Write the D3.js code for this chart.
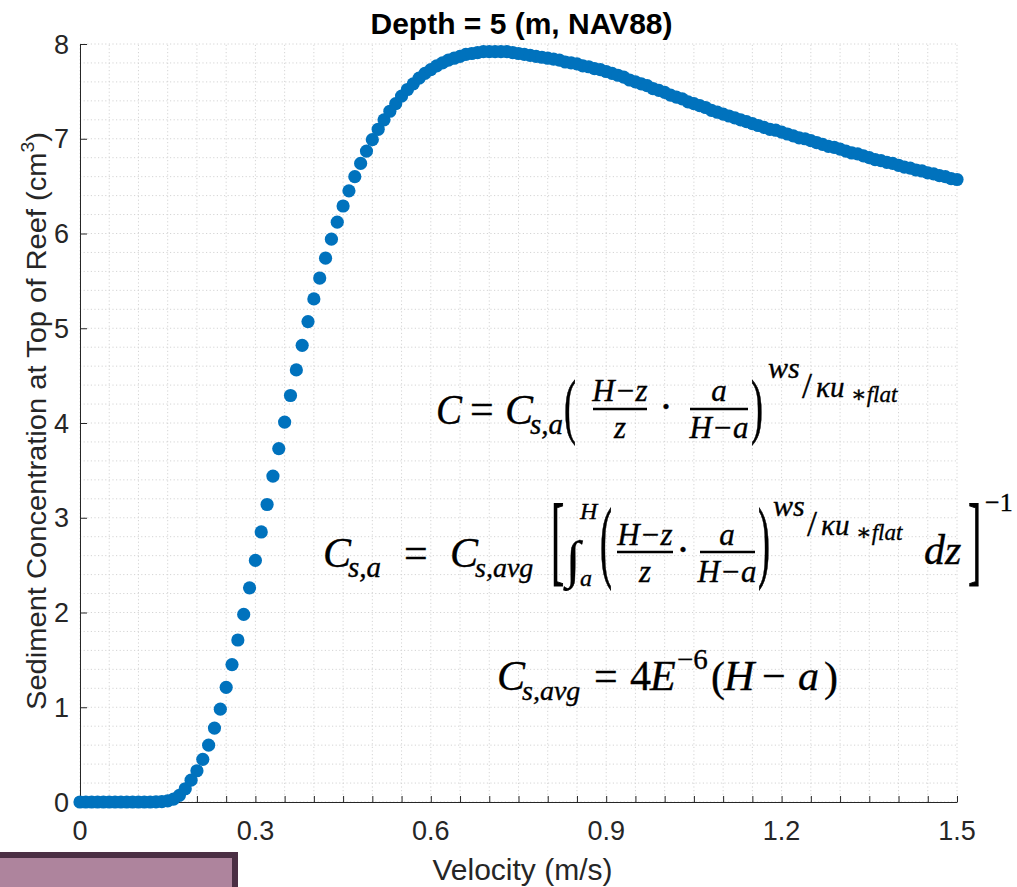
<!DOCTYPE html>
<html>
<head>
<meta charset="utf-8">
<script src="https://cdn.jsdelivr.net/npm/d3@7"></script>
<style>
  body { margin: 0; background: #fff; }
  svg { display: block; }
  .tick-label { font-family: "Liberation Sans", Arial, sans-serif; fill: #262626; }
  .math { font-family: "Liberation Serif", "DejaVu Serif", serif; fill: #000; stroke: #000; stroke-width: 0.35; }
</style>
</head>
<body>
<div id="root"></div>
<script>
// velocity (m/s), one point every 0.01
let velocity = [
    0.00, 0.01, 0.02, 0.03, 0.04, 0.05, 0.06, 0.07, 0.08, 0.09,
    0.10, 0.11, 0.12, 0.13, 0.14, 0.15, 0.16, 0.17, 0.18, 0.19,
    0.20, 0.21, 0.22, 0.23, 0.24, 0.25, 0.26, 0.27, 0.28, 0.29,
    0.30, 0.31, 0.32, 0.33, 0.34, 0.35, 0.36, 0.37, 0.38, 0.39,
    0.40, 0.41, 0.42, 0.43, 0.44, 0.45, 0.46, 0.47, 0.48, 0.49,
    0.50, 0.51, 0.52, 0.53, 0.54, 0.55, 0.56, 0.57, 0.58, 0.59,
    0.60, 0.61, 0.62, 0.63, 0.64, 0.65, 0.66, 0.67, 0.68, 0.69,
    0.70, 0.71, 0.72, 0.73, 0.74, 0.75, 0.76, 0.77, 0.78, 0.79,
    0.80, 0.81, 0.82, 0.83, 0.84, 0.85, 0.86, 0.87, 0.88, 0.89,
    0.90, 0.91, 0.92, 0.93, 0.94, 0.95, 0.96, 0.97, 0.98, 0.99,
    1.00, 1.01, 1.02, 1.03, 1.04, 1.05, 1.06, 1.07, 1.08, 1.09,
    1.10, 1.11, 1.12, 1.13, 1.14, 1.15, 1.16, 1.17, 1.18, 1.19,
    1.20, 1.21, 1.22, 1.23, 1.24, 1.25, 1.26, 1.27, 1.28, 1.29,
    1.30, 1.31, 1.32, 1.33, 1.34, 1.35, 1.36, 1.37, 1.38, 1.39,
    1.40, 1.41, 1.42, 1.43, 1.44, 1.45, 1.46, 1.47, 1.48, 1.49,
    1.50
];

// sediment concentration at top of reef
let concentration = [
    0.00, 0.00, 0.00, 0.00, 0.00, 0.00, 0.00, 0.00, 0.00, 0.00,
    0.00, 0.00, 0.00, 0.002, 0.005, 0.012, 0.03, 0.07, 0.14, 0.23,
    0.33, 0.45, 0.60, 0.78, 0.98, 1.21, 1.45, 1.71, 1.98, 2.26,
    2.55, 2.85, 3.14, 3.44, 3.73, 4.01, 4.29, 4.56, 4.82, 5.07,
    5.31, 5.53, 5.74, 5.94, 6.12, 6.29, 6.45, 6.60, 6.74, 6.87,
    6.99, 7.10, 7.20, 7.29, 7.37, 7.45, 7.52, 7.58, 7.64, 7.69,
    7.73, 7.77, 7.80, 7.83, 7.85, 7.87, 7.89, 7.90, 7.91, 7.92,
    7.92, 7.92, 7.92, 7.92, 7.91, 7.90, 7.89, 7.88, 7.87, 7.86,
    7.85, 7.84, 7.83, 7.81, 7.80, 7.79, 7.77, 7.76, 7.74, 7.73,
    7.71, 7.69, 7.67, 7.65, 7.62, 7.60, 7.58, 7.56, 7.53, 7.51,
    7.49, 7.46, 7.44, 7.42, 7.39, 7.37, 7.35, 7.33, 7.30, 7.28,
    7.26, 7.24, 7.22, 7.20, 7.18, 7.16, 7.14, 7.12, 7.10, 7.09,
    7.07, 7.05, 7.03, 7.01, 7.00, 6.98, 6.96, 6.94, 6.92, 6.91,
    6.89, 6.87, 6.85, 6.84, 6.82, 6.80, 6.78, 6.77, 6.75, 6.74,
    6.72, 6.70, 6.69, 6.67, 6.66, 6.64, 6.63, 6.61, 6.60, 6.58,
    6.57
];

let xTickValues = [0, 0.3, 0.6, 0.9, 1.2, 1.5];
let xTickLabels = ['0', '0.3', '0.6', '0.9', '1.2', '1.5'];
let yTickValues = [0, 1, 2, 3, 4, 5, 6, 7, 8];

let titleText = 'Depth = 5 (m, NAV88)';
let xLabelText = 'Velocity (m/s)';

let width = 1017, height = 887;
let margin = {left: 80, right: 60, top: 44, bottom: 85};

let svg = d3.select('#root').append('svg')
    .attr('width', width)
    .attr('height', height);

let x = d3.scaleLinear().domain([0, 1.5]).range([margin.left, width - margin.right]);
let y = d3.scaleLinear().domain([0, 8]).range([height - margin.bottom, margin.top]);

// minor grid, dotted
let grid = svg.append('g').attr('stroke', '#d4d4d4').attr('stroke-dasharray', '1.2,2.4').attr('stroke-width', 1);
grid.selectAll('line.gx')
    .data(x.ticks(30))
    .join('line')
    .attr('class', 'gx')
    .attr('x1', d => x(d)).attr('x2', d => x(d))
    .attr('y1', y(0)).attr('y2', y(8));
grid.selectAll('line.gy')
    .data(y.ticks(40))
    .join('line')
    .attr('class', 'gy')
    .attr('y1', d => y(d)).attr('y2', d => y(d))
    .attr('x1', x(0)).attr('x2', x(1.5));

// axes, ticks pointing inward like matlab
let xAxis = svg.append('g')
    .attr('transform', `translate(0,${y(0)})`)
    .call(d3.axisBottom(x).tickValues(x.ticks(30)).tickSizeInner(-6).tickSizeOuter(0).tickFormat(''));
xAxis.select('.domain').attr('stroke', '#262626');
xAxis.selectAll('.tick line').attr('stroke', '#262626');

svg.append('g').selectAll('text')
    .data(xTickValues)
    .join('text')
    .attr('class', 'tick-label')
    .attr('x', d => x(d))
    .attr('y', y(0) + 38)
    .attr('text-anchor', 'middle')
    .attr('font-size', 27)
    .text((d, i) => xTickLabels[i]);

let yAxis = svg.append('g')
    .attr('transform', `translate(${x(0)},0)`)
    .call(d3.axisLeft(y).tickValues(yTickValues).tickSizeInner(-7).tickSizeOuter(0).tickFormat(''));
yAxis.select('.domain').attr('stroke', '#262626');
yAxis.selectAll('.tick line').attr('stroke', '#262626');

svg.append('g').selectAll('text')
    .data(yTickValues)
    .join('text')
    .attr('class', 'tick-label')
    .attr('x', x(0) - 11)
    .attr('y', d => y(d) + 9.5)
    .attr('text-anchor', 'end')
    .attr('font-size', 27)
    .text(d => d);

// points
svg.append('g').selectAll('circle')
    .data(velocity.map((v, i) => ({v, c: concentration[i]})))
    .join('circle')
    .attr('cx', d => x(d.v))
    .attr('cy', d => y(d.c))
    .attr('r', 6.6)
    .attr('fill', '#0072BD');

// title and labels
svg.append('text')
    .attr('x', (x(0) + x(1.5)) / 2 + 3)
    .attr('y', 34)
    .attr('text-anchor', 'middle')
    .attr('font-family', '"Liberation Sans", Arial, sans-serif')
    .attr('font-weight', 'bold')
    .attr('font-size', 30)
    .attr('fill', '#000')
    .text(titleText);

svg.append('text')
    .attr('x', (x(0) + x(1.5)) / 2 + 4)
    .attr('y', 880)
    .attr('text-anchor', 'middle')
    .attr('font-family', '"Liberation Sans", Arial, sans-serif')
    .attr('font-size', 30)
    .attr('fill', '#262626')
    .text(xLabelText);

// matlab's label font is narrow, so squeeze it to the reference length
let yl = svg.append('text')
    .attr('transform', `translate(46,${(y(0) + y(8)) / 2 - 2}) rotate(-90)`)
    .attr('text-anchor', 'middle')
    .attr('font-family', '"Liberation Sans", Arial, sans-serif')
    .attr('font-size', 27)
    .attr('fill', '#262626')
    .attr('textLength', 578)
    .attr('lengthAdjust', 'spacingAndGlyphs');
yl.append('tspan').text('Sediment Concentration at Top of Reef (cm');
yl.append('tspan').attr('font-size', 18).attr('dy', -12).text('3');
yl.append('tspan').attr('dy', 12).text(')');

// ##################################################
// #  formulas                                      #
// ##################################################

function mt(sel, px, py, str, size, opts) {
    opts = opts || {};
    let t = sel.append('text')
        .attr('class', 'math')
        .attr('x', px).attr('y', py)
        .attr('font-size', size)
        .attr('font-style', opts.up ? 'normal' : 'italic')
        .attr('text-anchor', opts.anchor || 'start')
        .text(str);
    if (opts.len) {
        t.attr('textLength', opts.len).attr('lengthAdjust', 'spacingAndGlyphs');
    }
    return t;
}

// tall delimiter: normal glyph stretched vertically
function tall(sel, px, py, ch, size, sy) {
    return sel.append('text')
        .attr('class', 'math')
        .attr('transform', `translate(${px},${py}) scale(1,${sy})`)
        .attr('font-size', size)
        .attr('stroke-width', 0.2)
        .text(ch);
}

// letter with a subscript, kept in one text element
function withSub(sel, px, py, main, subText, size, subSize) {
    let t = sel.append('text')
        .attr('class', 'math')
        .attr('x', px).attr('y', py)
        .attr('font-size', size)
        .attr('font-style', 'italic');
    t.append('tspan').text(main);
    t.append('tspan').attr('font-size', subSize).attr('dx', -3).attr('dy', 10).text(subText);
    return t;
}

function bar(sel, x1, x2, py) {
    sel.append('line')
        .attr('x1', x1).attr('x2', x2)
        .attr('y1', py).attr('y2', py)
        .attr('stroke', '#000').attr('stroke-width', 2.6);
}

let f = svg.append('g');

// C = C_{s,a} ( (H-z)/z . a/(H-a) )^{ws/ku*flat}
mt(f, 436, 424, 'C', 42, {len: 26});
mt(f, 470, 423, '=', 42, {up: true});
withSub(f, 505, 424, 'C', 's,a', 42, 29);
tall(f, 564, 430, '(', 36, 2);
mt(f, 620, 401, 'H\u2212z', 31, {anchor: 'middle'});
bar(f, 593, 647, 409);
mt(f, 620, 438, 'z', 31, {anchor: 'middle'});
mt(f, 666, 421, '\u00b7', 42, {up: true, anchor: 'middle'});
mt(f, 719, 401, 'a', 31, {anchor: 'middle'});
bar(f, 690, 748, 409);
mt(f, 719, 438, 'H\u2212a', 31, {anchor: 'middle'});
tall(f, 751, 430, ')', 36, 2);
mt(f, 768, 378, 'ws', 30);
mt(f, 802, 398, '/', 36, {up: true});
mt(f, 816, 397, '\u03bau', 29);
mt(f, 851, 402, '\u2217flat', 23);

// C_{s,a} = C_{s,avg} [ int_a^H ( ... )^{...} dz ]^{-1}
withSub(f, 323, 567, 'C', 's,a', 42, 29);
mt(f, 404, 567, '=', 42, {up: true});
withSub(f, 450, 567, 'C', 's,avg', 42, 28);
tall(f, 551, 573, '[', 40, 2.5);
mt(f, 566, 577, '\u222b', 52);
mt(f, 580, 519, 'H', 24);
mt(f, 580, 586, 'a', 24);
tall(f, 600, 571, '(', 36, 2.5);
mt(f, 645, 545, 'H\u2212z', 31, {anchor: 'middle'});
bar(f, 617, 673, 552);
mt(f, 645, 582, 'z', 31, {anchor: 'middle'});
mt(f, 683, 564, '\u00b7', 42, {up: true, anchor: 'middle'});
mt(f, 727, 545, 'a', 31, {anchor: 'middle'});
bar(f, 700, 755, 552);
mt(f, 727, 582, 'H\u2212a', 31, {anchor: 'middle'});
tall(f, 758, 571, ')', 36, 2.5);
mt(f, 773, 516, 'ws', 30);
mt(f, 807, 536, '/', 36, {up: true});
mt(f, 821, 535, '\u03bau', 29);
mt(f, 856, 540, '\u2217flat', 23);
mt(f, 924, 564, 'dz', 42);
tall(f, 968, 573, ']', 40, 2.5);
mt(f, 985, 511, '\u22121', 26, {up: true});

// C_{s,avg} = 4E^{-6}(H - a)
withSub(f, 497, 690, 'C', 's,avg', 42, 28);
mt(f, 594, 690, '=', 42, {up: true});
mt(f, 630, 690, '4', 42, {up: true});
mt(f, 650, 690, 'E', 42);
mt(f, 677, 669, '\u22126', 29, {up: true});
mt(f, 711, 691, '(', 42, {up: true});
mt(f, 724, 690, 'H', 42);
mt(f, 762, 690, '\u2212', 42, {up: true});
mt(f, 798, 690, 'a', 42);
mt(f, 824, 691, ')', 42, {up: true});

// leftover overlay box in the lower left corner of the picture
svg.append('rect')
    .attr('x', -10).attr('y', 855)
    .attr('width', 245).attr('height', 50)
    .attr('fill', '#ae849d')
    .attr('stroke', '#4b2f44')
    .attr('stroke-width', 6);
</script>
</body>
</html>
